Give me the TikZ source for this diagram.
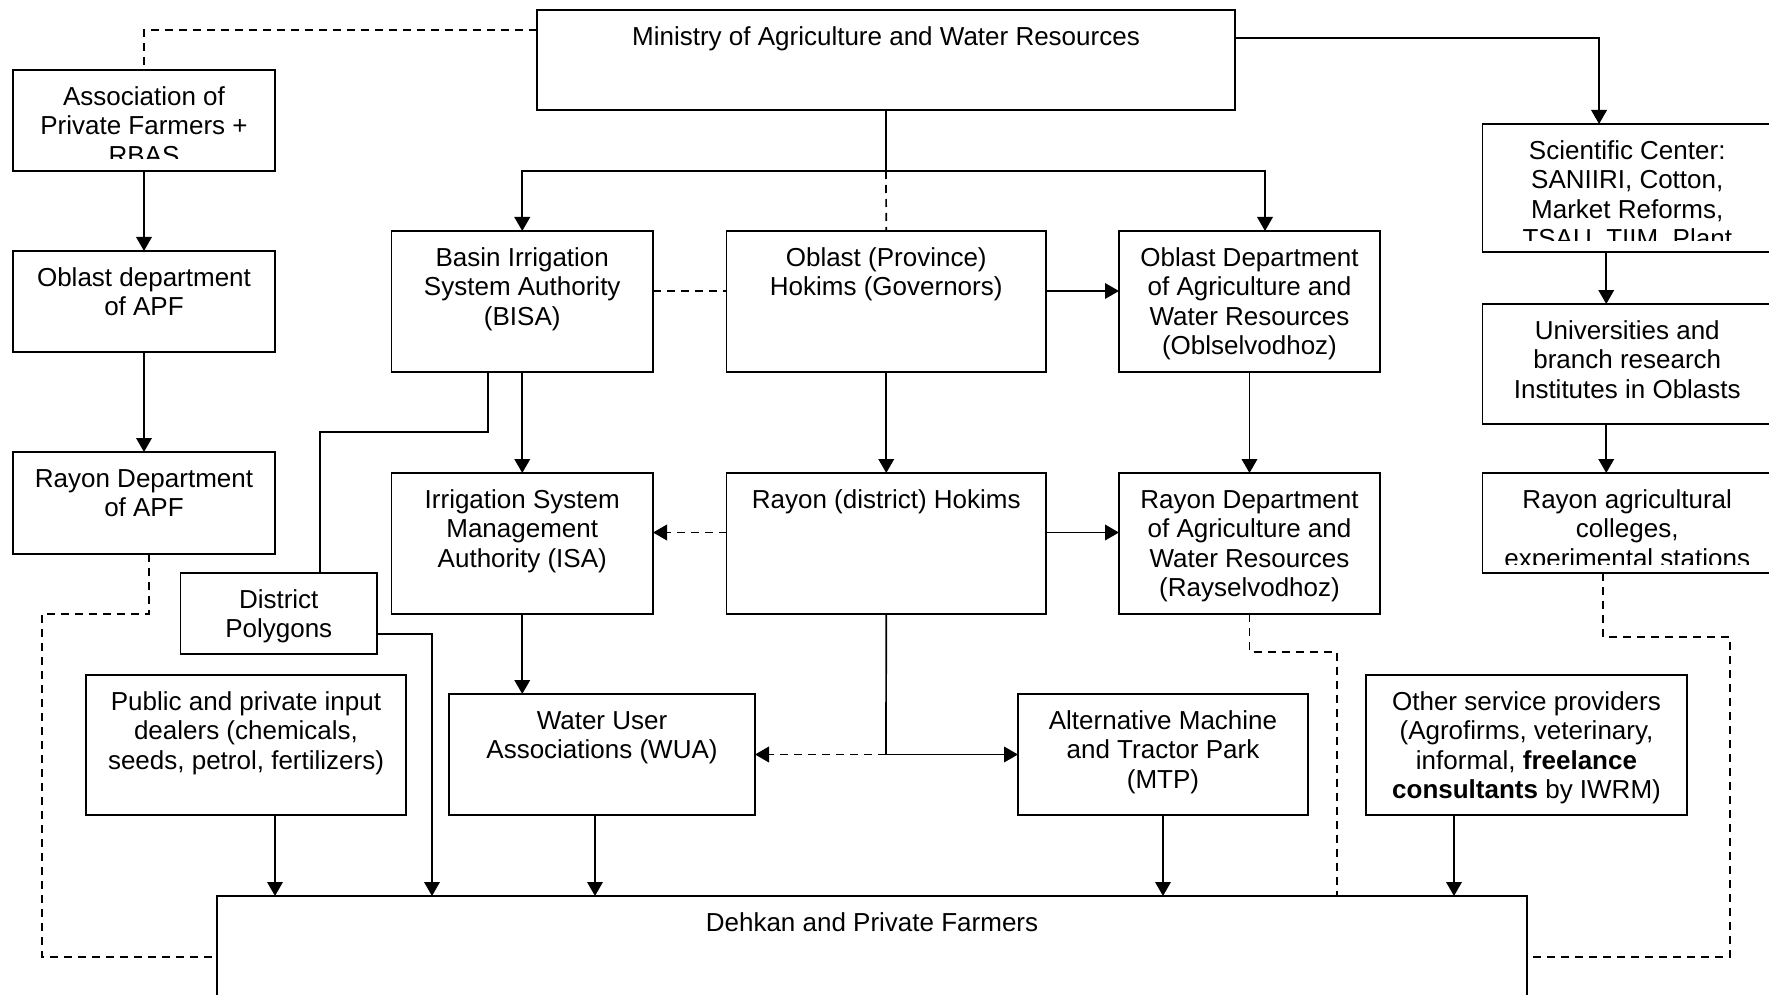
\documentclass[tikz,border=0pt]{standalone}
\usepackage{fontspec}
\setmainfont{Liberation Sans}
\usetikzlibrary{arrows.meta}
% box by its corners: name, x1, y1, x2, y2
\newcommand\mkbox[5]{\node[box, minimum width={(#4-#2)*0.5pt}, minimum height={(#5-#3)*0.5pt}] (#1) at ({(#2+#4)/2},{(#3+#5)/2}) {};}
\tikzset{
  box/.style={draw, line width=0.9pt, inner sep=0pt, outer sep=0pt},
  lbl/.style={anchor=north, inner sep=0pt, align=center, font=\fontsize{13}{14.75}\selectfont},
  ln/.style={line width=0.85pt},
  arr/.style={ln, -{Triangle[length=7pt,width=7.8pt]}},
  dsh/.style={ln, dash pattern=on 4pt off 3pt},
  darr/.style={dsh, -{Triangle[length=7pt,width=7.8pt]}},
}
\begin{document}
\begin{tikzpicture}[x=0.5pt, y=-0.5pt]
\useasboundingbox (0,0) rectangle (1769,995);

% ---- boxes ----
\mkbox{min}{537}{10}{1235}{110}
\mkbox{apf}{13}{70}{275}{171}
\mkbox{oapf}{13}{251}{275}{352}
\mkbox{rapf}{13}{452}{275}{554}
\mkbox{dpoly}{180.5}{573}{377}{654}
\mkbox{dealers}{86}{675}{406}{815}
\mkbox{dehkan}{217}{896}{1527}{1018}
\mkbox{bisa}{391.5}{231}{653}{372}
\mkbox{ohok}{726.5}{231}{1046}{372}
\mkbox{odept}{1119}{231}{1380}{372}
\mkbox{isa}{391.5}{473}{653}{614}
\mkbox{rhok}{726.5}{473}{1046}{614}
\mkbox{rdept}{1119}{473}{1380}{614}
\mkbox{wua}{449}{694}{755}{815}
\mkbox{mtp}{1018}{694}{1308}{815}
\mkbox{other}{1366}{675}{1687}{815}
\mkbox{sci}{1482.5}{124}{1772}{252}
\mkbox{uni}{1482.5}{304}{1772}{424}
\mkbox{col}{1482.5}{473}{1772}{573}

% ---- texts ----
\node[lbl] (minT) at ([yshift=-7pt]min.north) {\strut Ministry of Agriculture and Water Resources};
\begin{scope}
  \clip (13,70) rectangle (275,159);
  \node[lbl] (apfT) at ([yshift=-7pt]apf.north) {\strut Association of\\Private Farmers +\\RBAS};
\end{scope}
\node[lbl] (oapfT) at ([yshift=-7pt]oapf.north) {\strut Oblast department\\of APF};
\node[lbl] (rapfT) at ([yshift=-7pt]rapf.north) {\strut Rayon Department\\of APF};
\node[lbl] (dpolyT) at ([yshift=-7pt]dpoly.north) {\strut District\\Polygons};
\node[lbl] (dealersT) at ([yshift=-7pt]dealers.north) {\strut Public and private input\\dealers (chemicals,\\seeds, petrol, fertilizers)};
\node[lbl] (dehkanT) at ([yshift=-7pt]dehkan.north) {\strut Dehkan and Private Farmers};
\node[lbl] (bisaT) at ([yshift=-7pt]bisa.north) {\strut Basin Irrigation\\System Authority\\(BISA)};
\node[lbl] (ohokT) at ([yshift=-7pt]ohok.north) {\strut Oblast (Province)\\Hokims (Governors)};
\node[lbl] (odeptT) at ([yshift=-7pt]odept.north) {\strut Oblast Department\\of Agriculture and\\Water Resources\\(Oblselvodhoz)};
\node[lbl] (isaT) at ([yshift=-7pt]isa.north) {\strut Irrigation System\\Management\\Authority (ISA)};
\node[lbl] (rhokT) at ([yshift=-7pt]rhok.north) {\strut Rayon (district) Hokims};
\node[lbl] (rdeptT) at ([yshift=-7pt]rdept.north) {\strut Rayon Department\\of Agriculture and\\Water Resources\\(Rayselvodhoz)};
\node[lbl] (wuaT) at ([yshift=-7pt]wua.north) {\strut Water User\\Associations (WUA)};
\node[lbl] (mtpT) at ([yshift=-7pt]mtp.north) {\strut Alternative Machine\\and Tractor Park\\(MTP)};
\node[lbl] (otherT) at ([yshift=-7pt]other.north) {\strut Other service providers\\(Agrofirms, veterinary,\\informal, \textbf{freelance}\\\textbf{consultants} by IWRM)};
\begin{scope}
  \clip (1482.5,124) rectangle (1772,241);
  \node[lbl] (sciT) at ([yshift=-7pt]sci.north) {\strut Scientific Center:\\SANIIRI, Cotton,\\Market Reforms,\\TSAU, TIIM, Plant};
\end{scope}
\node[lbl] (uniT) at ([yshift=-7pt]uni.north) {\strut Universities and\\branch research\\Institutes in Oblasts};
\begin{scope}
  \clip (1482.5,473) rectangle (1772,564);
  \node[lbl] (colT) at ([yshift=-7pt]col.north) {\strut Rayon agricultural\\colleges,\\experimental stations};
\end{scope}

% ---- junction points ----
\coordinate (j1) at (886,171);
\coordinate (j2) at (886,754.5);
\coordinate (c1) at (42,614);
\coordinate (c2) at (320,432);
\coordinate (c4) at (1337,652);
\coordinate (c5) at (1730,637);

% ---- ministry level ----
\draw[ln] (min.south) -- (j1);
\draw[arr] (j1) -| (bisa.north);
\draw[arr] (j1) -| ([xshift=7.75pt]odept.north);
\draw[dsh] (j1) -- (ohok.north);
\draw[arr] ([yshift=11pt]min.east) -| ([xshift=-14.1pt]sci.north);
\draw[dsh] ([yshift=15pt]min.west) -| (apf.north);

% ---- APF column ----
\draw[arr] (apf.south) -- (oapf.north);
\draw[arr] (oapf.south) -- (rapf.north);
\draw[dsh] ([xshift=2.5pt]rapf.south) |- (c1) |- (dehkan.west);

% ---- oblast row ----
\draw[ln] ([xshift=-17pt]bisa.south) |- (c2) -- (c2 |- dpoly.north);
\draw[dsh] ([yshift=5.25pt]bisa.east) -- ([yshift=5.25pt]ohok.west);
\draw[arr] ([yshift=5.25pt]ohok.east) -- ([yshift=5.25pt]odept.west);
\draw[arr] (bisa.south) -- (isa.north);
\draw[arr] (ohok.south) -- (rhok.north);
\draw[arr] (odept.south) -- (rdept.north);

% ---- rayon row ----
\draw[darr] ([yshift=5.5pt]rhok.west) -- ([yshift=5.5pt]isa.east);
\draw[arr] ([yshift=5.5pt]rhok.east) -- ([yshift=5.5pt]rdept.west);
\draw[arr] (isa.south) -- (isa.south |- wua.north);
\draw[ln] (rhok.south) -- (j2);
\draw[arr] (j2) -- (mtp.west);
\draw[darr] (j2) -- (wua.east);
\draw[dsh] (rdept.south) |- (c4) -- (c4 |- dehkan.north);

% ---- into the farmers ----
\draw[arr] ([yshift=-10.25pt]dpoly.east) -| ([xshift=-220pt]dehkan.north);
\coordinate (d1) at ([xshift=14.5pt]dealers.south);
\draw[arr] (d1) -- (d1 |- dehkan.north);
\coordinate (d2) at ([xshift=-3.5pt]wua.south);
\draw[arr] (d2) -- (d2 |- dehkan.north);
\draw[arr] (mtp.south) -- (mtp.south |- dehkan.north);
\coordinate (d3) at ([xshift=-36.25pt]other.south);
\draw[arr] (d3) -- (d3 |- dehkan.north);

% ---- science column ----
\draw[arr] ([xshift=-10.5pt]sci.south) -- ([xshift=-10.5pt]uni.north);
\draw[arr] ([xshift=-10.5pt]uni.south) -- ([xshift=-10.5pt]col.north);
\draw[dsh] ([xshift=-12pt]col.south) |- (c5) |- (dehkan.east);
\end{tikzpicture}
\end{document}
